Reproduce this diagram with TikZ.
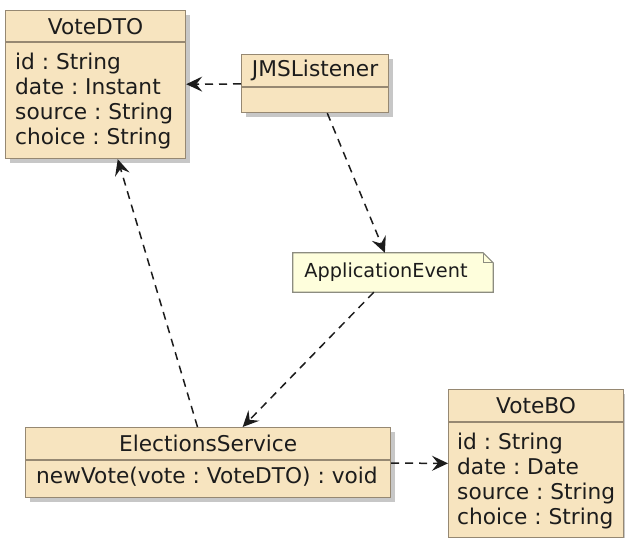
\documentclass[tikz,border=0pt]{standalone}
\usepackage{fontspec}
\setmainfont{DejaVu Sans}
\usetikzlibrary{arrows.meta, positioning, shadows, calc, backgrounds}

\definecolor{clsfill}{RGB}{247,228,191}
\definecolor{clsborder}{RGB}{150,136,114}
\definecolor{notefill}{RGB}{254,254,220}
\definecolor{noteborder}{RGB}{140,140,128}
\definecolor{txt}{RGB}{28,28,28}

\frenchspacing
\begin{document}
\begin{tikzpicture}[
  x=1pt, y=-1pt,
  cls/.style={rectangle, draw=clsborder, fill=clsfill, line width=1.2pt, inner sep=0pt, anchor=north west,
    drop shadow={shadow xshift=4pt, shadow yshift=-4pt, fill=black, opacity=0.22}},
  hdr/.style={font=\fontsize{21.7}{25}\selectfont, text=txt, inner sep=0pt},
  attrs/.style={font=\fontsize{21.7}{25}\selectfont, text=txt, inner sep=0pt, align=left, anchor=north west},
  sepline/.style={draw=clsborder, line width=1.2pt},
  notebox/.style={rectangle, inner sep=0pt, minimum width=200pt, minimum height=39pt, text=txt, font=\fontsize{19.3}{23}\selectfont},
  dep/.style={draw=txt, line width=1.5pt, dash pattern=on 8pt off 6pt, -{Stealth[length=16pt, width=15pt, inset=6pt]}},
]
  \useasboundingbox (0,0) rectangle (625,538);

  % classes
  \node[cls, minimum width=180pt, minimum height=148pt] (votedto) at (5,10) {};
  \node[hdr] (votedtoname) at ($(votedto.north)+(0,16.5)$) {VoteDTO};
  \draw[sepline] ($(votedto.north west)+(0,32)$) -- ($(votedto.north east)+(0,32)$);
  \node[attrs] (votedtoattrs) at ($(votedto.north west)+(10,43)$) {id : String\\date : Instant\\source : String\\choice : String};

  \node[cls, minimum width=147pt, minimum height=58pt] (jms) at (241,54) {};
  \node[hdr] (jmsname) at ($(jms.north)+(0,16.5)$) {JMSListener};
  \draw[sepline] ($(jms.north west)+(0,33)$) -- ($(jms.north east)+(0,33)$);

  \node[cls, minimum width=365pt, minimum height=70pt] (elections) at (25,427) {};
  \node[hdr] (electionsname) at ($(elections.north)+(0,16.5)$) {ElectionsService};
  \draw[sepline] ($(elections.north west)+(0,33)$) -- ($(elections.north east)+(0,33)$);
  \node[attrs] (electionsops) at ($(elections.north west)+(11,40)$) {newVote(vote : VoteDTO) : void};

  \node[cls, minimum width=175pt, minimum height=148pt] (votebo) at (448,389) {};
  \node[hdr] (voteboname) at ($(votebo.north)+(0,16.5)$) {VoteBO};
  \draw[sepline] ($(votebo.north west)+(0,33)$) -- ($(votebo.north east)+(0,33)$);
  \node[attrs] (voteboattrs) at ($(votebo.north west)+(9,44)$) {id : String\\date : Date\\source : String\\choice : String};

  % note
  \node[notebox] (appevent) at (393,272.5) {ApplicationEvent\hspace*{14pt}};
  \begin{scope}[on background layer]
    \fill[black, opacity=0.22, shift={(4,4)}] (appevent.north west) -- ($(appevent.north east)+(-10,0)$) -- ($(appevent.north east)+(0,10)$) -- (appevent.south east) -- (appevent.south west) -- cycle;
    \filldraw[fill=notefill, draw=noteborder, line width=1.2pt] (appevent.north west) -- ($(appevent.north east)+(-10,0)$) -- ($(appevent.north east)+(0,10)$) -- (appevent.south east) -- (appevent.south west) -- cycle;
    \draw[noteborder, line width=1.2pt] ($(appevent.north east)+(-10,0)$) -- ($(appevent.north east)+(-10,10)$) -- ($(appevent.north east)+(0,10)$);
  \end{scope}

  % dependencies
  \draw[dep] (jms) -- (votedto);
  \draw[dep] (jms) -- (appevent);
  \draw[dep] (appevent) -- (elections);
  \draw[dep] (elections) -- (votedto);
  \draw[dep] (elections) -- (votebo);
\end{tikzpicture}
\end{document}
